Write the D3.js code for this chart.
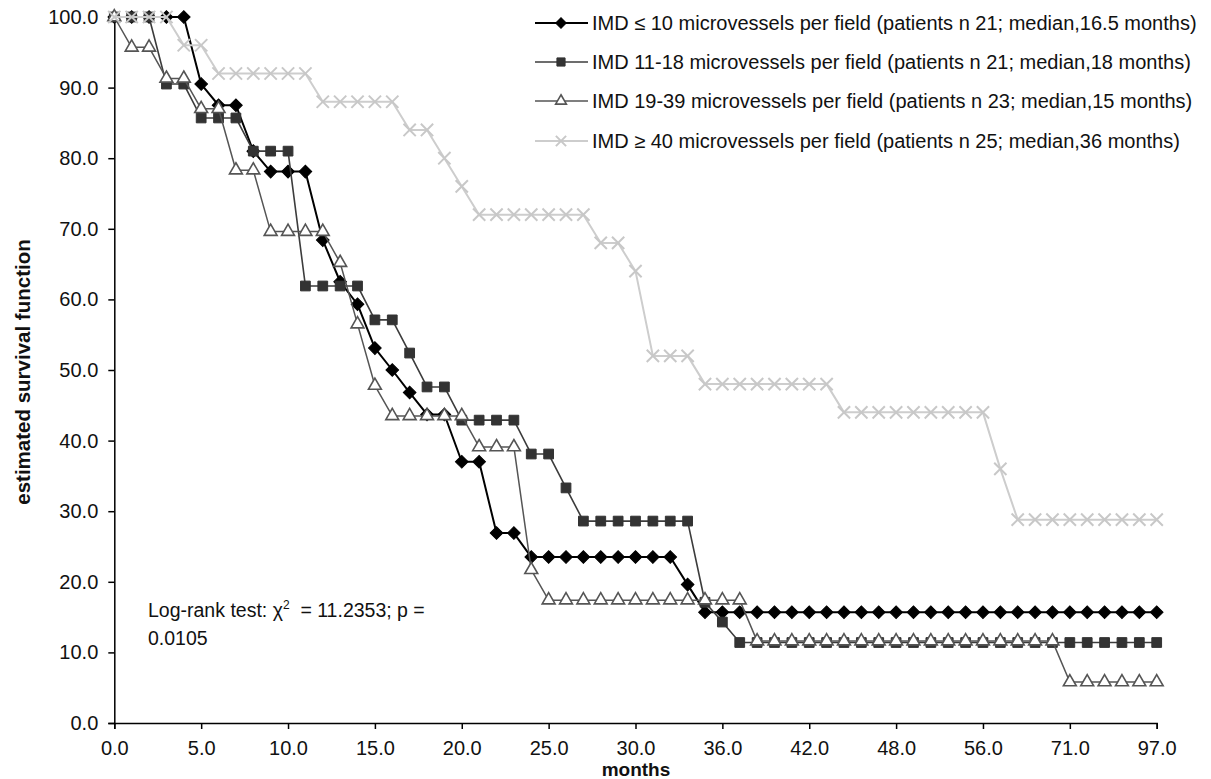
<html>
<head>
<script src="https://d3js.org/d3.v7.min.js"></script>
<style>
  body { margin: 0; padding: 0; background: #fff; }
  svg { display: block; font-family: "Liberation Sans", Arial, sans-serif; }
</style>
</head>
<body>
<script>
// months on the category axis (one marker per category)
var months = [0, 1, 2, 3, 4, 5, 6, 7, 8, 9, 10, 11, 12, 13, 14, 15, 16, 17, 18, 19, 20,
  21, 22, 23, 24, 25, 26, 27, 28, 29, 30, 31, 32, 33, 34, 36, 37, 38, 39, 40, 42,
  43, 44, 45, 46, 48, 49, 50, 52, 54, 56, 58, 60, 64, 68, 71, 75, 80, 86, 92, 97];

var imdLow = [100, 100, 100, 100, 100, 90.5, 87.5, 87.5, 81.0, 78.1, 78.1, 78.1, 68.4, 62.5,
  59.3, 53.1, 50.0, 46.8, 43.7, 43.7, 37.0, 37.0, 26.9, 26.9, 23.5, 23.5, 23.5, 23.5, 23.5,
  23.5, 23.5, 23.5, 23.5, 19.6, 15.7, 15.7, 15.7, 15.7, 15.7, 15.7, 15.7, 15.7, 15.7, 15.7,
  15.7, 15.7, 15.7, 15.7, 15.7, 15.7, 15.7, 15.7, 15.7, 15.7, 15.7, 15.7, 15.7, 15.7, 15.7,
  15.7, 15.7];

var imd11to18 = [100, 100, 100, 90.5, 90.5, 85.7, 85.7, 85.7, 81.0, 81.0, 81.0, 61.9, 61.9,
  61.9, 61.9, 57.1, 57.1, 52.4, 47.6, 47.6, 42.9, 42.9, 42.9, 42.9, 38.1, 38.1, 33.3, 28.6,
  28.6, 28.6, 28.6, 28.6, 28.6, 28.6, 17.1, 14.3, 11.4, 11.4, 11.4, 11.4, 11.4, 11.4, 11.4,
  11.4, 11.4, 11.4, 11.4, 11.4, 11.4, 11.4, 11.4, 11.4, 11.4, 11.4, 11.4, 11.4, 11.4, 11.4,
  11.4, 11.4, 11.4];

var imd19to39 = [100, 95.7, 95.7, 91.3, 91.3, 87.0, 87.0, 78.3, 78.3, 69.6, 69.6, 69.6, 69.6,
  65.2, 56.5, 47.8, 43.5, 43.5, 43.5, 43.5, 43.5, 39.1, 39.1, 39.1, 21.7, 17.4, 17.4, 17.4,
  17.4, 17.4, 17.4, 17.4, 17.4, 17.4, 17.4, 17.4, 17.4, 11.6, 11.6, 11.6, 11.6, 11.6, 11.6,
  11.6, 11.6, 11.6, 11.6, 11.6, 11.6, 11.6, 11.6, 11.6, 11.6, 11.6, 11.6, 5.8, 5.8, 5.8,
  5.8, 5.8, 5.8];

var imdHigh = [100, 100, 100, 100, 96, 96, 92, 92, 92, 92, 92, 92, 88, 88, 88, 88, 88, 84, 84,
  80, 76, 72, 72, 72, 72, 72, 72, 72, 68, 68, 64, 52, 52, 52, 48, 48, 48, 48, 48, 48, 48, 48,
  44, 44, 44, 44, 44, 44, 44, 44, 44, 36, 28.8, 28.8, 28.8, 28.8, 28.8, 28.8, 28.8, 28.8, 28.8];

var seriesNames = [
  "IMD \u2264 10 microvessels per field (patients n 21; median,16.5 months)",
  "IMD 11-18 microvessels per field (patients n 21; median,18 months)",
  "IMD 19-39 microvessels per field (patients n 23;  median,15 months)",
  "IMD \u2265 40 microvessels per field (patients n 25; median,36 months)"
];

var yTicks = [0, 10, 20, 30, 40, 50, 60, 70, 80, 90, 100];

var width = 1211, height = 779;

var svg = d3.select("body").append("svg")
    .attr("width", width)
    .attr("height", height);

var x = d3.scalePoint()
    .domain(months)
    .range([114.3, 1156.7]);

var y = d3.scaleLinear()
    .domain([0, 100])
    .range([723, 17]);

var fmt = d3.format(".1f");

// series styles
var styles = [
  {values: imdLow, line: "#000", lw: 2, shape: d3.symbolSquare, size: 80, rot: 45, fill: "#000", stroke: "#000", sw: 1},
  {values: imd11to18, line: "#3c3c3c", lw: 1.6, shape: d3.symbolSquare, size: 95, rot: 0, fill: "#333", stroke: "#333", sw: 1},
  {values: imd19to39, line: "#555", lw: 1.5, shape: d3.symbolTriangle, size: 72, rot: 0, fill: "#fff", stroke: "#555", sw: 1.6},
  {values: imdHigh, line: "#cdcdcd", lw: 2, shape: d3.symbolTimes, size: 100, rot: 0, fill: "none", stroke: "#c8c8c8", sw: 2}
];

// axes
var yAxis = d3.axisLeft(y)
    .tickValues(yTicks)
    .tickFormat(fmt)
    .tickSize(6)
    .tickPadding(10);

var gy = svg.append("g")
    .attr("transform", "translate(114.3,0)")
    .call(yAxis);

var xAxis = d3.axisBottom(x)
    .tickValues(months.filter(function(d, i) { return i % 5 === 0; }))
    .tickFormat(fmt)
    .tickSize(6)
    .tickPadding(12);

var gx = svg.append("g")
    .attr("transform", "translate(0,723)")
    .call(xAxis);

[gx, gy].forEach(function(g) {
  g.select(".domain").attr("stroke", "#000").attr("stroke-width", 1.5);
  g.selectAll(".tick line").attr("stroke", "#000").attr("stroke-width", 1.5);
  g.selectAll(".tick text")
    .attr("fill", "#111")
    .style("font-size", "20px")
    .style("font-family", "'Liberation Sans', Arial, sans-serif");
});

// lines and markers
var line = d3.line()
    .x(function(d, i) { return x(months[i]); })
    .y(function(d) { return y(d); });

styles.forEach(function(s) {
  var g = svg.append("g");
  g.append("path")
    .attr("d", line(s.values))
    .attr("fill", "none")
    .attr("stroke", s.line)
    .attr("stroke-width", s.lw)
    .attr("stroke-linejoin", "round");
  var sym = d3.symbol().type(s.shape).size(s.size);
  g.selectAll("path.mk")
    .data(s.values)
    .enter().append("path")
    .attr("class", "mk")
    .attr("d", sym)
    .attr("transform", function(d, i) {
      return "translate(" + x(months[i]) + "," + y(d) + ") rotate(" + s.rot + ")";
    })
    .attr("fill", s.fill)
    .attr("stroke", s.stroke)
    .attr("stroke-width", s.sw);
});

// legend
var legend = svg.append("g");
var legendY = [23, 62, 101, 141];
styles.forEach(function(s, i) {
  var gl = legend.append("g").attr("transform", "translate(0," + legendY[i] + ")");
  gl.append("line")
    .attr("x1", 535).attr("x2", 588)
    .attr("y1", 0).attr("y2", 0)
    .attr("stroke", s.line)
    .attr("stroke-width", s.lw);
  gl.append("path")
    .attr("d", d3.symbol().type(s.shape).size(s.size * 0.7))
    .attr("transform", "translate(561,0) rotate(" + s.rot + ")")
    .attr("fill", s.fill)
    .attr("stroke", s.stroke)
    .attr("stroke-width", s.sw);
  gl.append("text")
    .attr("x", 592)
    .attr("y", 7)
    .attr("fill", "#111")
    .style("font-size", "20px")
    .text(seriesNames[i]);
});

// log-rank annotation
var note = svg.append("text")
    .attr("x", 148)
    .attr("y", 617)
    .attr("fill", "#111")
    .style("font-size", "19.5px")
    .style("white-space", "pre");
note.append("tspan").text("Log-rank test: \u03c7");
note.append("tspan").attr("dy", -8).style("font-size", "12px").text("2");
note.append("tspan").attr("dy", 8).text("  = 11.2353; p =");
svg.append("text")
    .attr("x", 148)
    .attr("y", 645)
    .attr("fill", "#111")
    .style("font-size", "19.5px")
    .text("0.0105");

// axis titles
svg.append("text")
    .attr("x", 636)
    .attr("y", 776)
    .attr("text-anchor", "middle")
    .attr("fill", "#111")
    .style("font-size", "19px")
    .style("font-weight", "bold")
    .text("months");

svg.append("text")
    .attr("transform", "translate(30,372) rotate(-90)")
    .attr("text-anchor", "middle")
    .attr("fill", "#111")
    .style("font-size", "20.5px")
    .style("font-weight", "bold")
    .text("estimated survival function");
</script>
</body>
</html>
